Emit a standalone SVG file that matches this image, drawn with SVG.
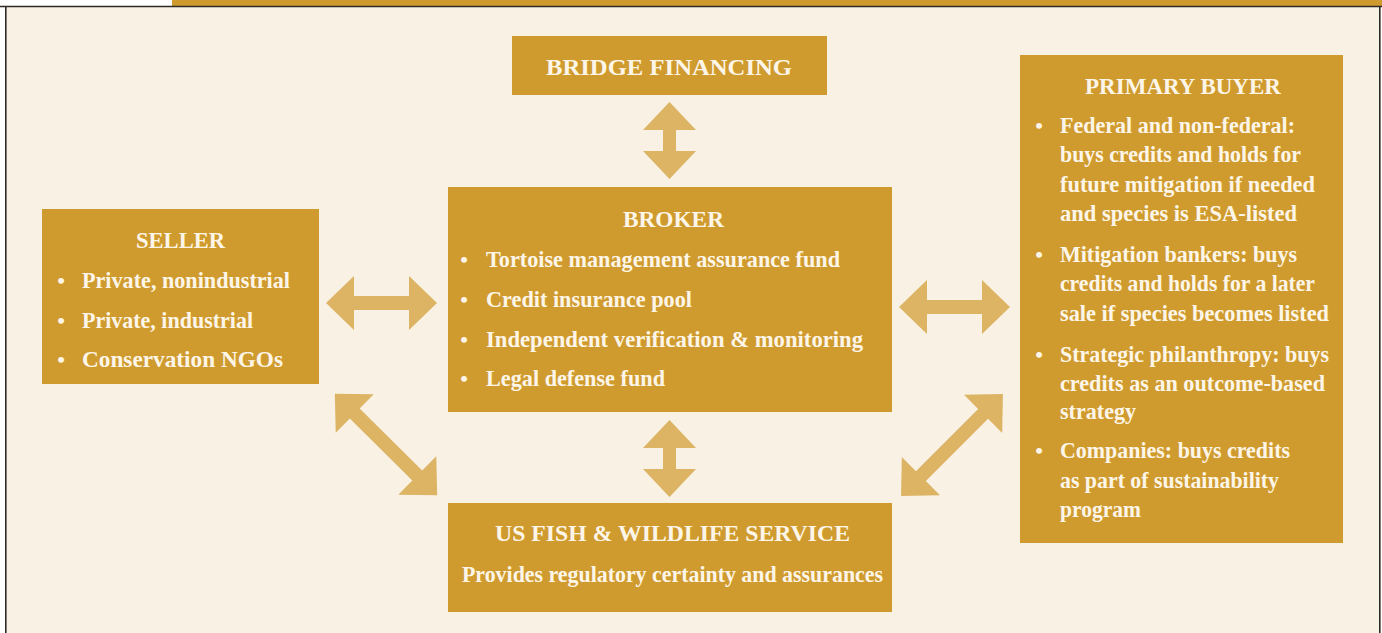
<svg xmlns="http://www.w3.org/2000/svg" width="1382" height="633" viewBox="0 0 1382 633">
  <style>
    .panel { fill: #F8F1E4; }
    .frame { stroke: #2E2A26; stroke-width: 1.6; fill: none; }
    .box { fill: #D09B2E; }
    .arrow { fill: #DDB463; }
    text { font-family: "Liberation Serif", "DejaVu Serif", serif; fill: #FDF6E8; }
    .title { font-size: 23px; font-weight: bold; text-anchor: middle; }
    .item { font-size: 23px; font-weight: bold; }
    .dot { font-size: 22px; font-weight: bold; text-anchor: middle; }
    .sub { font-size: 23px; font-weight: bold; text-anchor: middle; }
  </style>

  <!-- page background and header strip -->
  <rect x="0" y="0" width="1382" height="633" fill="#FFFFFF"/>
  <rect class="panel" x="6" y="6" width="1374" height="627"/>
  <rect x="172" y="0" width="1210" height="6" fill="#D09B2E"/>
  <line class="frame" x1="0" y1="6.5" x2="1382" y2="6.5"/>
  <line class="frame" x1="5.8" y1="6" x2="5.8" y2="633"/>
  <line class="frame" x1="1379.8" y1="6" x2="1379.8" y2="633"/>

  <!-- double-headed connectors -->
  <g id="connectors">
    <path class="arrow" d="M326 303 L354 276 L354 296 L409 296 L409 276 L437 303 L409 330 L409 310 L354 310 L354 330 Z"/>
    <path class="arrow" d="M899 307 L927 280 L927 300 L982 300 L982 280 L1010 307 L982 334 L982 314 L927 314 L927 334 Z"/>
    <path class="arrow" d="M669.5 102 L696 130 L676 130 L676 151 L696 151 L669.5 179 L643 151 L663 151 L663 130 L643 130 Z"/>
    <path class="arrow" d="M669.5 420 L696 448 L676 448 L676 469 L696 469 L669.5 497 L643 469 L663 469 L663 448 L643 448 Z"/>
    <path class="arrow" transform="translate(386 444.5) rotate(44.7)" d="M-72 0 L-44 -27 L-44 -7 L44 -7 L44 -27 L72 0 L44 27 L44 7 L-44 7 L-44 27 Z"/>
    <path class="arrow" transform="translate(952 445) rotate(-45)" d="M-72 0 L-44 -27 L-44 -7 L44 -7 L44 -27 L72 0 L44 27 L44 7 L-44 7 L-44 27 Z"/>
  </g>

  <g id="bridge-financing">
    <rect class="box" x="512" y="36" width="315" height="59"/>
    <text class="title" x="669" y="75" textLength="246" lengthAdjust="spacingAndGlyphs">BRIDGE FINANCING</text>
  </g>

  <g id="seller">
    <rect class="box" x="42" y="209" width="277" height="175"/>
    <text class="title" x="180.5" y="248" textLength="89" lengthAdjust="spacingAndGlyphs">SELLER</text>
    <text class="dot" x="61" y="288">•</text>
    <text class="item" x="82" y="288" textLength="208" lengthAdjust="spacingAndGlyphs">Private, nonindustrial</text>
    <text class="dot" x="61" y="328">•</text>
    <text class="item" x="82" y="328" textLength="171" lengthAdjust="spacingAndGlyphs">Private, industrial</text>
    <text class="dot" x="61" y="367">•</text>
    <text class="item" x="82" y="367" textLength="201" lengthAdjust="spacingAndGlyphs">Conservation NGOs</text>
  </g>

  <g id="broker">
    <rect class="box" x="448" y="187" width="444" height="225"/>
    <text class="title" x="673.5" y="227" textLength="101" lengthAdjust="spacingAndGlyphs">BROKER</text>
    <text class="dot" x="464" y="267">•</text>
    <text class="item" x="486" y="267" textLength="354" lengthAdjust="spacingAndGlyphs">Tortoise management assurance fund</text>
    <text class="dot" x="464" y="307">•</text>
    <text class="item" x="486" y="307" textLength="206" lengthAdjust="spacingAndGlyphs">Credit insurance pool</text>
    <text class="dot" x="464" y="347">•</text>
    <text class="item" x="486" y="347" textLength="377" lengthAdjust="spacingAndGlyphs">Independent verification &amp; monitoring</text>
    <text class="dot" x="464" y="386">•</text>
    <text class="item" x="486" y="386" textLength="179" lengthAdjust="spacingAndGlyphs">Legal defense fund</text>
  </g>

  <g id="primary-buyer">
    <rect class="box" x="1020" y="55" width="323" height="488"/>
    <text class="title" x="1183" y="94" textLength="196" lengthAdjust="spacingAndGlyphs">PRIMARY BUYER</text>
    <text class="dot" x="1039" y="133">•</text>
    <text class="item" x="1060" y="133" textLength="235" lengthAdjust="spacingAndGlyphs">Federal and non-federal:</text>
    <text class="item" x="1060" y="162" textLength="241" lengthAdjust="spacingAndGlyphs">buys credits and holds for</text>
    <text class="item" x="1060" y="192" textLength="255" lengthAdjust="spacingAndGlyphs">future mitigation if needed</text>
    <text class="item" x="1060" y="221" textLength="237" lengthAdjust="spacingAndGlyphs">and species is ESA-listed</text>
    <text class="dot" x="1039" y="262">•</text>
    <text class="item" x="1060" y="262" textLength="237" lengthAdjust="spacingAndGlyphs">Mitigation bankers: buys</text>
    <text class="item" x="1060" y="291" textLength="255" lengthAdjust="spacingAndGlyphs">credits and holds for a later</text>
    <text class="item" x="1060" y="321" textLength="269" lengthAdjust="spacingAndGlyphs">sale if species becomes listed</text>
    <text class="dot" x="1039" y="362">•</text>
    <text class="item" x="1060" y="362" textLength="269" lengthAdjust="spacingAndGlyphs">Strategic philanthropy: buys</text>
    <text class="item" x="1060" y="391" textLength="265" lengthAdjust="spacingAndGlyphs">credits as an outcome-based</text>
    <text class="item" x="1060" y="419" textLength="76" lengthAdjust="spacingAndGlyphs">strategy</text>
    <text class="dot" x="1039" y="458">•</text>
    <text class="item" x="1060" y="458" textLength="230" lengthAdjust="spacingAndGlyphs">Companies: buys credits</text>
    <text class="item" x="1060" y="488" textLength="219" lengthAdjust="spacingAndGlyphs">as part of sustainability</text>
    <text class="item" x="1060" y="517" textLength="81" lengthAdjust="spacingAndGlyphs">program</text>
  </g>

  <g id="us-fish-wildlife-service">
    <rect class="box" x="448" y="503" width="444" height="109"/>
    <text class="title" x="672.5" y="541" textLength="355" lengthAdjust="spacingAndGlyphs">US FISH &amp; WILDLIFE SERVICE</text>
    <text class="sub" x="672.5" y="582" textLength="421" lengthAdjust="spacingAndGlyphs">Provides regulatory certainty and assurances</text>
  </g>
</svg>
